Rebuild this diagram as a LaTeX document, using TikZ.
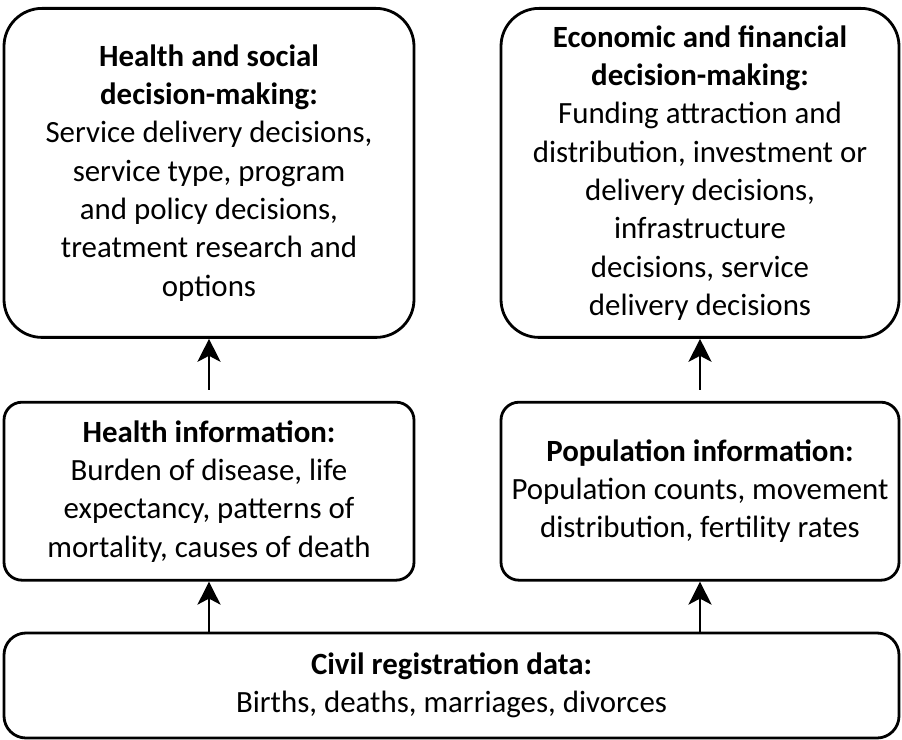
\documentclass[tikz,border=0pt]{standalone}
\usepackage{fontspec}
\setmainfont{Carlito}
\usetikzlibrary{positioning, arrows.meta}

\begin{document}
\begin{tikzpicture}[
    x=1bp, y=1bp,
    node distance=50bp,
    box/.style={rectangle, draw, line width=2.8bp, align=center, inner sep=0pt, font=\fontsize{31}{38.5}\selectfont},
    decision/.style={box, rounded corners=38bp, minimum height=329bp},
    info/.style={box, rounded corners=18bp, minimum height=178bp},
    data/.style={box, rounded corners=22bp, minimum width=895bp, minimum height=105bp},
    arrow/.style={-{Stealth[length=23bp, width=23bp, inset=6bp]}, line width=2.5bp}
]
\useasboundingbox (0,0) rectangle (902,-740);

\node[data] (civil) at (451.5,-685.5) {\textbf{Civil registration data:}\\Births, deaths, marriages, divorces};

\node[info, minimum width=410bp] (hinfo) [above=of civil.north west, anchor=south west]
    {\textbf{Health information:}\\Burden of disease, life\\expectancy, patterns of\\mortality, causes of death};
\node[info, minimum width=398bp] (pinfo) [above=of civil.north east, anchor=south east]
    {\textbf{Population information:}\\Population counts, movement\\distribution, fertility rates};

\node[decision, minimum width=410bp] (hsdm) [above=62bp of hinfo]
    {\textbf{Health and social}\\\textbf{decision-making:}\\Service delivery decisions,\\service type, program\\and policy decisions,\\treatment research and\\options};
\node[decision, minimum width=398bp] (efdm) [above=62bp of pinfo]
    {\textbf{Economic and financial}\\\textbf{decision-making:}\\Funding attraction and\\distribution, investment or\\delivery decisions,\\infrastructure\\decisions, service\\delivery decisions};

\draw[arrow] (civil.north -| hinfo) -- (hinfo);
\draw[arrow] (civil.north -| pinfo) -- (pinfo);
\draw[arrow, shorten <=11bp] (hinfo) -- (hsdm);
\draw[arrow, shorten <=11bp] (pinfo) -- (efdm);

\end{tikzpicture}
\end{document}
